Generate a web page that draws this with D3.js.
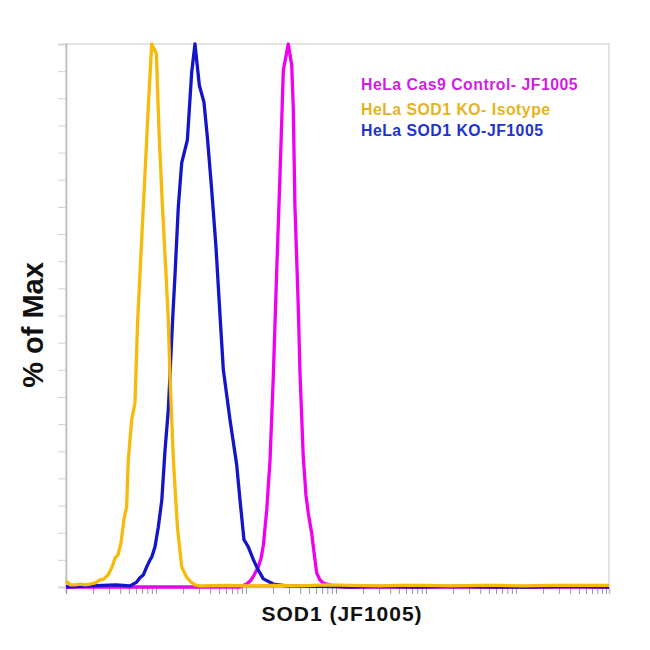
<!DOCTYPE html>
<html><head><meta charset="utf-8">
<script src="https://cdn.jsdelivr.net/npm/d3@7"></script>
<style>html,body{margin:0;padding:0;background:#fff;}</style>
</head><body>
<svg id="chart" width="650" height="650"></svg>
<script>
// ---- data (fluorescence intensity, % of max) ----
const xDomain = [1, 1080000];
const yDomain = [0, 100];
const seriesNames = ["HeLa Cas9 Control- JF1005", "HeLa SOD1 KO- Isotype", "HeLa SOD1 KO-JF1005"];
const xLabel = "SOD1 (JF1005)";
const yLabel = "% of Max";

const controlX = [1, 85.8, 102, 114, 123, 137, 147, 156, 170, 185, 201, 219, 239, 260, 295, 322, 335, 350, 381, 398, 433, 464, 492, 537, 560, 584, 610, 664, 722, 933, 1260, 5000, 30000, 200000, 1080000];
const controlY = [0, 0, 0.55, 1.3, 2.2, 3.7, 5.3, 7.7, 14.2, 23.4, 38.7, 57.8, 76.2, 95.2, 100, 96.1, 88.4, 70.0, 51.6, 39.4, 23.9, 16.9, 13.6, 9.9, 7.4, 5.0, 2.6, 1.3, 0.74, 0.2, 0, 0, 0, 0, 0];

const isotypeX = [1, 1.11, 1.26, 1.43, 1.63, 1.85, 2.10, 2.39, 2.64, 2.93, 3.25, 3.50, 3.78, 4.08, 4.41, 4.72, 4.92, 5.37, 5.84, 6.26, 6.93, 7.55, 8.21, 8.96, 10.1, 10.5, 10.9, 11.8, 12.9, 13.7, 14.3, 15.6, 17.3, 19.3, 21.9, 24.5, 27.1, 30.8, 60, 111, 200, 398, 800, 1430, 3000, 5140, 10000, 18500, 40000, 66400, 120000, 239000, 500000, 1080000];
const isotypeY = [1.1, 0.4, 0.4, 0.55, 0.4, 0.55, 0.74, 1.3, 1.5, 2.2, 3.7, 5.3, 5.9, 8.1, 12.5, 14.8, 23.4, 30.8, 33.9, 49.2, 63.9, 76.2, 88.4, 100, 98.2, 89.7, 82.3, 70.0, 57.8, 49.2, 38.7, 23.4, 11.0, 3.7, 1.8, 0.9, 0.4, 0.2, 0.3, 0.2, 0.3, 0.2, 0.4, 0.3, 0.2, 0.3, 0.3, 0.2, 0.3, 0.3, 0.2, 0.3, 0.3, 0.3];

const koX = [1, 1.85, 3.59, 5.14, 6.10, 6.64, 7.22, 7.88, 8.58, 8.96, 9.75, 10.6, 11.6, 12.6, 13.7, 15.3, 16.3, 17.7, 19.3, 22.3, 24.9, 27.1, 30.3, 34.1, 37.2, 41.6, 46.4, 51.4, 56.0, 66.4, 78.8, 85.8, 95.0, 106, 121, 137, 156, 201, 283, 398, 700, 1500, 3000, 8000, 20000, 60000, 150000, 400000, 1080000];
const koY = [0, 0.2, 0.4, 0.2, 0.9, 1.7, 2.2, 3.7, 5.0, 5.5, 7.4, 11.0, 16.0, 25.2, 32.6, 49.2, 57.8, 70.0, 78.1, 82.3, 94.7, 100, 92.4, 89.3, 82.9, 73.1, 62.6, 50.1, 40.0, 30.8, 22.5, 16.0, 8.7, 7.4, 5.0, 3.1, 1.5, 0.55, 0.2, 0.1, 0.1, 0, 0.1, 0, 0.1, 0, 0, 0.1, 0];

const yTicks = d3.range(0, 101, 5);

// ---- layout ----
const M = {left: 66, top: 44, right: 609, bottom: 587};
const svg = d3.select("#chart");
const x = d3.scaleLog().domain(xDomain).range([M.left, M.right]);
const y = d3.scaleLinear().domain(yDomain).range([M.bottom, M.top]);

// frame
svg.append("rect").attr("x", M.left).attr("y", M.top)
  .attr("width", M.right - M.left).attr("height", M.bottom - M.top)
  .attr("fill", "none").attr("stroke", "#d0d0d0").attr("stroke-width", 1.2);

// y axis
const yAxis = svg.append("g").attr("transform", `translate(${M.left},0)`)
  .call(d3.axisLeft(y).tickValues(yTicks).tickSize(8).tickFormat(""));
yAxis.select(".domain").attr("stroke", "#bdbdbd").attr("stroke-width", 1.5);
yAxis.selectAll(".tick line").attr("stroke", "#d2d2d2").attr("stroke-width", 1);

// x axis (log ticks)
const xTicks = [];
for (let k = 0; k <= 6; k++) for (let m = 1; m <= 9; m++) {
  const v = m * Math.pow(10, k);
  if (v <= xDomain[1]) xTicks.push(v);
}
const xAxis = svg.append("g").attr("transform", `translate(0,${M.bottom})`)
  .call(d3.axisBottom(x).tickValues(xTicks).tickSize(7).tickFormat(""));
xAxis.select(".domain").attr("stroke", "#bdbdbd").attr("stroke-width", 1.5);
xAxis.selectAll(".tick line").attr("stroke", "#9a9a9a").attr("stroke-width", 1);

// lines
const series = [
  {name: seriesNames[0], xs: controlX, ys: controlY, color: "#f000f0", text: "#d21ee2"},
  {name: seriesNames[2], xs: koX, ys: koY, color: "#1414c8", text: "#2233cc"},
  {name: seriesNames[1], xs: isotypeX, ys: isotypeY, color: "#f7b90a", text: "#e6b31e"}
];
const line = d3.line().x(d => x(d[0])).y(d => y(d[1]));
series.forEach(s => {
  svg.append("path")
    .datum(s.xs.map((v, i) => [v, s.ys[i]]))
    .attr("d", line)
    .attr("fill", "none")
    .attr("stroke", s.color)
    .attr("stroke-width", 3.3)
    .attr("stroke-linejoin", "round");
});

// legend
const legendOrder = [series[0], series[2], series[1]];
const legendY = [90, 115, 136];
legendOrder.forEach((s, i) => {
  svg.append("text").attr("x", 361).attr("y", legendY[i])
    .attr("font-family", "Liberation Sans, Arial, sans-serif")
    .attr("font-weight", "bold").attr("font-size", 15.8)
    .attr("letter-spacing", 0.5)
    .attr("fill", s.text).text(s.name);
});

// axis titles
svg.append("text").attr("x", 342).attr("y", 621)
  .attr("text-anchor", "middle")
  .attr("font-family", "Liberation Sans, Arial, sans-serif")
  .attr("font-weight", "bold").attr("font-size", 21)
  .attr("letter-spacing", 1)
  .attr("fill", "#111").text(xLabel);

svg.append("text")
  .attr("transform", "translate(43,325) rotate(-90)")
  .attr("text-anchor", "middle")
  .attr("font-family", "Liberation Sans, Arial, sans-serif")
  .attr("font-weight", "bold").attr("font-size", 29)
  .attr("fill", "#111").text(yLabel);
</script>
</body></html>
